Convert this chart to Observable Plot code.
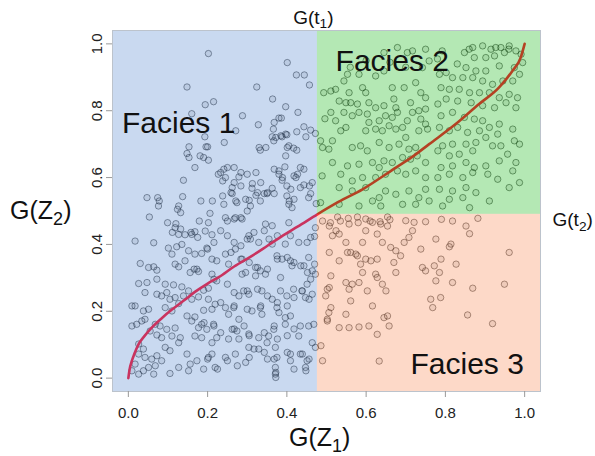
<!DOCTYPE html>
<html>
<head>
<meta charset="utf-8">
<script src="https://cdn.jsdelivr.net/npm/d3@7"></script>
<script src="https://cdn.jsdelivr.net/npm/@observablehq/plot@0.6"></script>
<style>
  html, body { margin: 0; padding: 0; background: #ffffff; }
</style>
</head>
<body>
<div id="chart"></div>
<script>
// ---- data ----
const xTicks = [0, 0.2, 0.4, 0.6, 0.8, 1.0];
const yTicks = [0, 0.2, 0.4, 0.6, 0.8, 1.0];
const t1 = 0.477;   // G(t1) threshold on G(Z1)
const t2 = 0.49;    // G(t2) threshold on G(Z2)

const facies1Points = [
[0.202,0.971],[0.148,0.871],[0.324,0.871],[0.401,0.944],[0.424,0.907],[0.444,0.907],[0.457,0.877],
[0.194,0.818],[0.215,0.827],[0.364,0.835],[0.397,0.812],[0.428,0.795],[0.16,0.791],[0.288,0.785],
[0.328,0.758],[0.368,0.765],[0.38,0.778],[0.386,0.778],[0.366,0.745],[0.372,0.72],[0.385,0.725],
[0.397,0.73],[0.425,0.737],[0.443,0.752],[0.46,0.742],[0.472,0.732],[0.448,0.722],[0.271,0.74],
[0.193,0.722],[0.242,0.705],[0.196,0.692],[0.153,0.692],[0.2,0.692],[0.148,0.672],[0.153,0.66],
[0.181,0.665],[0.19,0.66],[0.202,0.652],[0.33,0.69],[0.347,0.69],[0.333,0.682],[0.401,0.69],
[0.425,0.682],[0.405,0.695],[0.417,0.688],[0.363,0.722],[0.367,0.71],[0.388,0.722],[0.4,0.728],
[0.397,0.665],[0.168,0.63],[0.395,0.632],[0.139,0.592],[0.233,0.615],[0.25,0.63],[0.267,0.63],
[0.284,0.615],[0.3,0.61],[0.322,0.615],[0.241,0.625],[0.245,0.6],[0.279,0.602],[0.368,0.625],
[0.38,0.61],[0.38,0.62],[0.389,0.6],[0.388,0.592],[0.418,0.605],[0.427,0.61],[0.434,0.63],
[0.443,0.625],[0.423,0.6],[0.227,0.61],[0.238,0.59],[0.267,0.585],[0.284,0.575],[0.313,0.582],
[0.334,0.585],[0.312,0.568],[0.262,0.57],[0.262,0.552],[0.35,0.552],[0.363,0.568],[0.4,0.575],
[0.41,0.565],[0.464,0.585],[0.457,0.575],[0.434,0.57],[0.443,0.578],[0.047,0.54],[0.074,0.54],
[0.076,0.515],[0.078,0.53],[0.137,0.543],[0.127,0.515],[0.183,0.53],[0.212,0.53],[0.238,0.545],
[0.259,0.555],[0.271,0.53],[0.296,0.535],[0.305,0.532],[0.322,0.547],[0.326,0.555],[0.343,0.552],
[0.351,0.555],[0.368,0.552],[0.3,0.5],[0.406,0.53],[0.418,0.535],[0.241,0.52],[0.274,0.525],
[0.308,0.515],[0.333,0.53],[0.4,0.545],[0.405,0.52],[0.413,0.51],[0.455,0.54],[0.46,0.552],
[0.474,0.522],[0.124,0.505],[0.132,0.495],[0.206,0.493],[0.053,0.482],[0.099,0.465],[0.12,0.462],
[0.179,0.47],[0.25,0.47],[0.267,0.476],[0.284,0.48],
[0.118,0.45],[0.127,0.43],[0.143,0.429],[0.16,0.43],[0.168,0.438],[0.194,0.44],[0.211,0.429],
[0.202,0.465],[0.017,0.41],[0.064,0.405],[0.101,0.389],[0.122,0.393],[0.11,0.371],[0.135,0.4],
[0.152,0.381],[0.168,0.371],[0.185,0.373],[0.198,0.389],[0.211,0.356],[0.223,0.351],[0.03,0.343],
[0.051,0.331],[0.064,0.333],[0.072,0.323],[0.118,0.341],[0.127,0.333],[0.143,0.351],[0.173,0.326],
[0.177,0.319],[0.156,0.316],[0.026,0.283],[0.047,0.286],[0.072,0.296],[0.093,0.281],[0.114,0.279],
[0.135,0.273],[0.152,0.261],[0.19,0.263],[0.202,0.269],[0.211,0.311],[0.223,0.291],[0.042,0.256],
[0.072,0.251],[0.084,0.246],[0.097,0.256],[0.105,0.236],[0.118,0.241],[0.127,0.223],[0.139,0.246],
[0.16,0.236],[0.177,0.243],[0.202,0.236],[0.219,0.221],[0.009,0.216],[0.017,0.216],[0.038,0.201],
[0.051,0.206],[0.093,0.211],[0.11,0.201],[0.148,0.186],[0.16,0.171],[0.168,0.183],[0.19,0.203],
[0.211,0.206],[0.009,0.156],[0.021,0.161],[0.034,0.171],[0.042,0.176],[0.068,0.161],[0.08,0.156],
[0.097,0.146],[0.118,0.15],[0.131,0.121],[0.11,0.126],[0.084,0.121],[0.072,0.129],[0.055,0.141],
[0.177,0.151],[0.185,0.161],[0.198,0.146],[0.215,0.161],[0.223,0.121],[0.211,0.106],[0.185,0.121],
[0.168,0.126],[0.026,0.102],[0.038,0.087],[0.026,0.072],[0.042,0.062],[0.059,0.057],[0.072,0.067],
[0.068,0.037],[0.051,0.032],[0.038,0.022],[0.026,0.012],[0.009,0.022],[0.017,0.042],[0.064,0.012],
[0.105,0.014],[0.084,0.052],[0.127,0.032],[0.148,0.072],[0.156,0.042],[0.173,0.052],[0.19,0.027],
[0.152,0.022],[0.127,0.106],[0.105,0.082],[0.093,0.092],[0.202,0.062],[0.219,0.032],[0.211,0.072],
[0.111,0.436],[0.132,0.446],[0.158,0.436],[0.175,0.421],[0.2,0.386],[0.216,0.406],[0.233,0.441],
[0.25,0.426],[0.267,0.406],[0.284,0.396],[0.3,0.416],[0.317,0.436],[0.343,0.441],[0.355,0.416],
[0.376,0.426],[0.166,0.326],[0.259,0.376],[0.284,0.356],[0.305,0.346],[0.326,0.331],[0.351,0.326],
[0.376,0.356],[0.401,0.361],[0.418,0.346],[0.216,0.296],[0.25,0.281],[0.267,0.256],[0.3,0.261],
[0.326,0.266],[0.351,0.246],[0.376,0.226],[0.401,0.216],[0.418,0.241],[0.233,0.226],[0.267,0.216],
[0.3,0.206],[0.334,0.216],[0.191,0.166],[0.216,0.156],[0.233,0.136],[0.267,0.147],[0.292,0.156],
[0.305,0.127],[0.343,0.136],[0.368,0.156],[0.376,0.117],[0.401,0.127],[0.418,0.147],[0.2,0.057],
[0.225,0.027],[0.25,0.052],[0.275,0.037],[0.305,0.062],[0.317,0.087],[0.343,0.077],[0.351,0.057],
[0.368,0.057],[0.372,0.017],[0.372,0.002],[0.401,0.077],[0.418,0.027],
[0.245,0.48],[0.27,0.48],[0.287,0.476],[0.346,0.461],[0.363,0.456],[0.405,0.465],[0.472,0.45],
[0.46,0.421],[0.47,0.424],[0.304,0.426],[0.308,0.416],[0.329,0.406],[0.363,0.401],[0.396,0.401],
[0.409,0.426],[0.43,0.406],[0.451,0.406],[0.245,0.371],[0.27,0.386],[0.287,0.356],[0.253,0.341],
[0.321,0.331],[0.333,0.321],[0.375,0.366],[0.388,0.356],[0.409,0.351],[0.413,0.336],[0.443,0.336],
[0.455,0.361],[0.464,0.321],[0.47,0.341],[0.472,0.311],[0.287,0.311],[0.296,0.316],[0.321,0.306],
[0.346,0.311],[0.384,0.301],[0.291,0.261],[0.279,0.246],[0.304,0.251],[0.337,0.261],[0.363,0.236],
[0.384,0.261],[0.4,0.246],[0.417,0.266],[0.438,0.261],[0.447,0.241],[0.464,0.251],[0.451,0.281],
[0.245,0.211],[0.266,0.211],[0.253,0.191],[0.279,0.176],[0.312,0.201],[0.333,0.211],[0.337,0.191],
[0.375,0.211],[0.38,0.196],[0.396,0.181],[0.409,0.186],[0.396,0.161],[0.434,0.156],[0.455,0.156],
[0.468,0.161],[0.262,0.146],[0.274,0.141],[0.253,0.117],[0.279,0.117],[0.304,0.132],[0.329,0.121],
[0.354,0.126],[0.367,0.146],[0.35,0.106],[0.371,0.092],[0.329,0.087],[0.304,0.092],[0.27,0.072],
[0.245,0.062],[0.296,0.047],[0.375,0.062],[0.409,0.072],[0.434,0.072],[0.451,0.052],[0.447,0.032],
[0.409,0.052],[0.371,0.032],[0.371,0.012],[0.464,0.106],[0.472,0.092],[0.43,0.126],
[0.435,0.336],[0.452,0.316],[0.46,0.296],[0.439,0.261],[0.456,0.236],[0.439,0.072],[0.456,0.057],
[0.448,0.022]
];

const facies2Points = [
[0.679,0.989],[0.704,0.974],[0.645,0.974],[0.75,0.984],[0.759,0.949],[0.742,0.929],[0.645,0.919],
[0.624,0.904],[0.582,0.909],[0.553,0.909],[0.544,0.889],[0.523,0.864],[0.511,0.859],[0.557,0.854],
[0.591,0.869],[0.599,0.854],[0.666,0.869],[0.696,0.869],[0.725,0.884],[0.738,0.854],[0.75,0.839],
[0.532,0.829],[0.549,0.824],[0.561,0.824],[0.578,0.82],[0.607,0.824],[0.624,0.809],[0.645,0.815],
[0.67,0.835],[0.675,0.809],[0.712,0.824],[0.733,0.8],[0.75,0.805],[0.511,0.795],[0.523,0.77],
[0.544,0.795],[0.565,0.785],[0.582,0.795],[0.603,0.79],[0.607,0.765],[0.633,0.77],[0.649,0.785],
[0.666,0.78],[0.679,0.795],[0.704,0.77],[0.717,0.795],[0.738,0.775],[0.75,0.76],[0.536,0.74],
[0.549,0.75],[0.599,0.74],[0.624,0.745],[0.641,0.74],[0.658,0.755],[0.675,0.745],[0.692,0.75],
[0.7,0.72],[0.733,0.74],[0.755,0.745],[0.565,0.69],[0.586,0.695],[0.603,0.68],[0.633,0.705],
[0.658,0.69],[0.683,0.7],[0.708,0.685],[0.725,0.69],[0.515,0.71],[0.506,0.685],[0.515,0.645],
[0.553,0.635],[0.582,0.64],[0.616,0.645],[0.633,0.63],[0.645,0.65],[0.666,0.645],[0.692,0.66],
[0.712,0.655],[0.729,0.665],[0.75,0.645],[0.536,0.61],[0.565,0.59],[0.591,0.6],[0.624,0.6],
[0.649,0.61],[0.679,0.62],[0.7,0.61],[0.725,0.62],[0.75,0.6],[0.532,0.57],[0.565,0.56],
[0.599,0.57],[0.633,0.54],[0.649,0.56],[0.675,0.55],[0.708,0.56],[0.733,0.54],[0.75,0.565],
[0.532,0.52],[0.582,0.515],[0.616,0.53],[0.637,0.515],[0.692,0.52],[0.725,0.52],[0.759,0.53],
[0.894,0.994],[0.915,0.984],[0.94,0.989],[0.961,0.994],[0.978,0.979],[0.991,0.969],[0.995,0.944],
[0.949,0.974],[0.924,0.964],[0.902,0.959],[0.873,0.959],[0.869,0.989],[0.848,0.974],[0.852,0.929],
[0.877,0.919],[0.902,0.919],[0.936,0.934],[0.974,0.929],[0.987,0.909],[0.97,0.889],[0.945,0.889],
[0.919,0.879],[0.894,0.889],[0.869,0.899],[0.844,0.899],[0.818,0.899],[0.802,0.914],[0.785,0.909],
[0.789,0.869],[0.81,0.864],[0.835,0.864],[0.861,0.854],[0.886,0.854],[0.911,0.854],[0.936,0.839],
[0.961,0.849],[0.982,0.839],[0.978,0.809],[0.953,0.824],[0.924,0.809],[0.894,0.815],[0.865,0.824],
[0.831,0.829],[0.802,0.835],[0.781,0.82],[0.789,0.785],[0.818,0.795],[0.848,0.78],[0.873,0.775],
[0.894,0.77],[0.785,0.75],[0.81,0.74],[0.831,0.75],[0.856,0.735],[0.886,0.74],[0.911,0.75],
[0.936,0.76],[0.97,0.745],[0.974,0.71],[0.932,0.73],[0.902,0.72],[0.877,0.705],[0.852,0.7],
[0.818,0.7],[0.793,0.695],[0.781,0.68],[0.81,0.665],[0.835,0.67],[0.869,0.68],[0.919,0.695],
[0.94,0.695],[0.957,0.67],[0.987,0.7],[0.978,0.645],[0.936,0.65],[0.902,0.635],[0.873,0.63],
[0.852,0.645],[0.818,0.635],[0.789,0.63],[0.781,0.6],[0.81,0.61],[0.844,0.6],[0.869,0.615],
[0.907,0.61],[0.932,0.595],[0.97,0.62],[0.987,0.585],[0.785,0.565],[0.818,0.56],[0.852,0.57],
[0.877,0.555],[0.911,0.53],[0.81,0.535],[0.844,0.54],[0.793,0.515],[0.861,0.51],[0.961,0.57],
[0.493,0.854],[0.496,0.776],[0.485,0.71],[0.49,0.69],[0.489,0.605],[0.485,0.525],
[0.56,0.93],[0.6,0.95],[0.66,0.945],[0.7,0.93],[0.78,0.955],[0.83,0.94],[0.717,0.979],
[0.792,0.979],[0.86,0.984],[0.927,0.989],[0.96,0.984]
];

const facies3Points = [
[0.528,0.482],[0.557,0.461],[0.578,0.482],[0.599,0.476],[0.616,0.466],[0.637,0.461],[0.654,0.482],
[0.654,0.455],[0.507,0.455],[0.524,0.441],[0.515,0.426],[0.532,0.431],[0.549,0.406],[0.561,0.376],
[0.578,0.366],[0.591,0.406],[0.599,0.441],[0.628,0.431],[0.641,0.406],[0.662,0.391],[0.675,0.381],
[0.696,0.406],[0.708,0.421],[0.717,0.441],[0.721,0.466],[0.7,0.471],[0.738,0.386],[0.687,0.366],
[0.67,0.346],[0.507,0.376],[0.532,0.351],[0.511,0.306],[0.553,0.376],[0.574,0.371],[0.599,0.356],
[0.612,0.351],[0.628,0.356],[0.586,0.341],[0.591,0.316],[0.624,0.311],[0.675,0.316],[0.75,0.321],
[0.507,0.271],[0.549,0.286],[0.565,0.281],[0.582,0.286],[0.557,0.266],[0.603,0.261],[0.628,0.301],
[0.641,0.281],[0.65,0.261],[0.511,0.211],[0.549,0.191],[0.561,0.231],[0.616,0.216],[0.645,0.181],
[0.654,0.186],[0.658,0.156],[0.532,0.151],[0.557,0.151],[0.582,0.153],[0.607,0.156],[0.502,0.176],
[0.628,0.131],[0.633,0.051],[0.742,0.331],[0.763,0.236],[0.788,0.241],[0.818,0.47],[0.852,0.455],
[0.861,0.432],[0.882,0.478],[0.776,0.416],[0.81,0.393],[0.814,0.401],[0.789,0.356],[0.827,0.341],
[0.772,0.336],[0.785,0.316],[0.776,0.291],[0.818,0.286],[0.869,0.269],[0.949,0.281],[0.961,0.376],
[0.768,0.211],[0.856,0.189],[0.919,0.163],[0.502,0.266],[0.498,0.246],[0.506,0.196],[0.502,0.171],
[0.486,0.097],[0.49,0.052],[0.49,0.47],[0.51,0.465],[0.535,0.47],[0.555,0.478],[0.58,0.465],
[0.61,0.47],[0.635,0.468],[0.66,0.474],[0.75,0.468],[0.79,0.475]
];

const curveZ1 = [0, 0.003, 0.009, 0.015, 0.026, 0.04, 0.059, 0.085, 0.11, 0.14, 0.168, 0.2, 0.228, 0.267, 0.312, 0.351, 0.396, 0.427, 0.477, 0.53, 0.591, 0.675, 0.72, 0.759, 0.826, 0.885, 0.935, 0.969, 0.99, 1.0];
const curveZ2 = [0, 0.025, 0.052, 0.072, 0.102, 0.125, 0.151, 0.18, 0.205, 0.232, 0.258, 0.283, 0.302, 0.334, 0.366, 0.396, 0.431, 0.453, 0.49, 0.527, 0.565, 0.63, 0.665, 0.7, 0.76, 0.82, 0.869, 0.919, 0.959, 1.0];

const regionNames = ["Facies 1", "Facies 2", "Facies 3"];
const regionColors = ["#4b80cd", "#05b205", "#f88048"];

// ---- derived tables for the library ----
const lo = -0.04, hi = 1.04;
const regions = [
  {name: regionNames[0], x1: lo, x2: t1, y1: lo, y2: hi, fill: regionColors[0]},
  {name: regionNames[1], x1: t1, x2: hi, y1: t2, y2: hi, fill: regionColors[1]},
  {name: regionNames[2], x1: t1, x2: hi, y1: lo, y2: t2, fill: regionColors[2]}
];
const allPoints = [...facies1Points, ...facies2Points, ...facies3Points];
const curve = curveZ1.map((x, i) => ({x, y: curveZ2[i]}));

const font = "Arial, 'Liberation Sans', Helvetica, sans-serif";
const dotStyle = {x: d => d[0], y: d => d[1], r: 3.2, stroke: "#000", strokeOpacity: 0.45, strokeWidth: 1, fill: "#000", fillOpacity: 0.08};

const chart = Plot.plot({
  width: 595,
  height: 456,
  marginLeft: 112,
  marginRight: 55,
  marginTop: 30,
  marginBottom: 65,
  x: {domain: [lo, hi]},
  y: {domain: [lo, hi]},
  style: {fontFamily: font, background: "#ffffff", overflow: "visible"},
  marks: [
    Plot.dot(allPoints, dotStyle),
    Plot.line(curve, {x: "x", y: "y", stroke: "#ff1230", strokeWidth: 2.6, curve: "monotone-x"}),
    Plot.rect(regions, {x1: "x1", x2: "x2", y1: "y1", y2: "y2", fill: "fill", fillOpacity: 0.3}),
    Plot.frame({stroke: "#bcc3cc"}),
    Plot.axisX({ticks: xTicks, tickFormat: d3.format(".1f"), tickSize: 6, tickPadding: 10, fontSize: 15, stroke: "#999", fill: "#222", label: null}),
    Plot.axisY({ticks: yTicks, tickFormat: d3.format(".1f"), tickSize: 6, tickPadding: 5, tickRotate: -90, fontSize: 15, stroke: "#999", fill: "#222", label: null}),
    Plot.text([regionNames[0]], {x: -0.016, y: 0.734, text: d => d, textAnchor: "start", lineAnchor: "bottom", fontSize: 30, fill: "#111"}),
    Plot.text([regionNames[1]], {x: 0.523, y: 0.919, text: d => d, textAnchor: "start", lineAnchor: "bottom", fontSize: 30, fill: "#111"}),
    Plot.text([regionNames[2]], {x: 0.998, y: 0.013, text: d => d, textAnchor: "end", lineAnchor: "bottom", fontSize: 30, fill: "#111"}),
    Plot.text(["G(Z_1)"], {x: 0.483, y: -0.178, text: d => d, textAnchor: "middle", lineAnchor: "middle", fontSize: 25, fill: "#111"}),
    Plot.text(["G(Z_2)"], {x: -0.221, y: 0.5, text: d => d, textAnchor: "middle", lineAnchor: "middle", fontSize: 25, fill: "#111"}),
    Plot.text(["G(t_1)"], {x: t1, y: hi, dx: -4, dy: -13, text: d => d, textAnchor: "middle", lineAnchor: "middle", fontSize: 19, fill: "#111"}),
    Plot.text(["G(t_2)"], {x: hi, y: t2, dx: 12, dy: 6, text: d => d, textAnchor: "start", lineAnchor: "middle", fontSize: 19, fill: "#111"})
  ]
});

document.getElementById("chart").appendChild(chart);

// subscripts: "X_1" -> X with a lowered smaller 1
const ns = "http://www.w3.org/2000/svg";
chart.querySelectorAll("text").forEach(t => {
  const s = t.textContent;
  const m = s.match(/^(.*)_(\w)(.*)$/);
  if (!m) return;
  const fs = parseFloat(getComputedStyle(t).fontSize) || 16;
  while (t.firstChild) t.removeChild(t.firstChild);
  const a = document.createElementNS(ns, "tspan"); a.textContent = m[1];
  const b = document.createElementNS(ns, "tspan"); b.textContent = m[2];
  b.setAttribute("font-size", (fs * 0.72).toFixed(1));
  b.setAttribute("dy", (fs * 0.24).toFixed(1));
  const c = document.createElementNS(ns, "tspan"); c.textContent = m[3];
  c.setAttribute("dy", (-fs * 0.24).toFixed(1));
  t.appendChild(a); t.appendChild(b); t.appendChild(c);
});
</script>
</body>
</html>
